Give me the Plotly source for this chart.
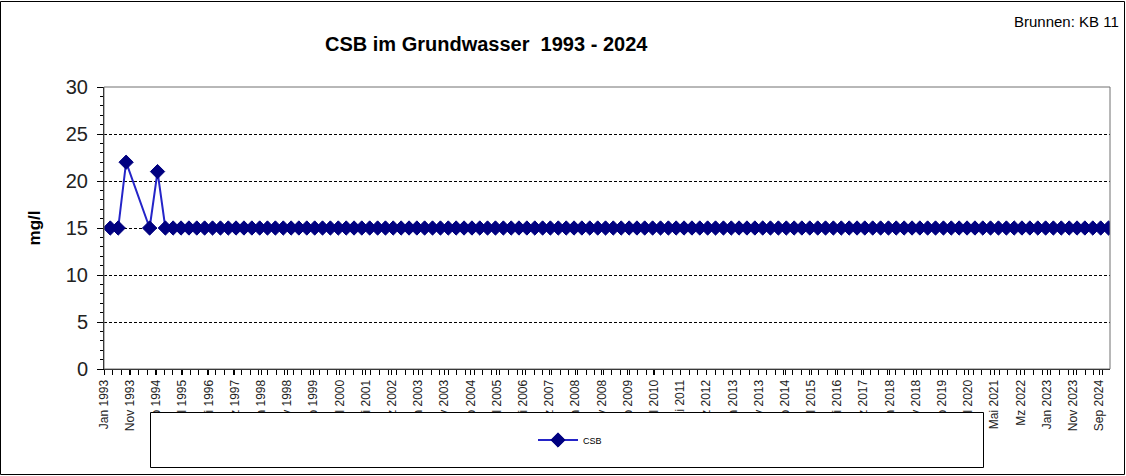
import plotly.graph_objects as go

# Sampling dates and CSB values (mg/l)
sample_dates = [
    "1993-03-15", "1993-06-15", "1993-09-15",
    "1994-06-15", "1994-09-15", "1994-12-15",
    "1995-03-15", "1995-06-15", "1995-09-15", "1995-12-15",
    "1996-03-15", "1996-06-15", "1996-09-15", "1996-12-15",
    "1997-03-15", "1997-06-15", "1997-09-15", "1997-12-15",
    "1998-03-15", "1998-06-15", "1998-09-15", "1998-12-15",
    "1999-03-15", "1999-06-15", "1999-09-15", "1999-12-15",
    "2000-03-15", "2000-06-15", "2000-09-15", "2000-12-15",
    "2001-03-15", "2001-06-15", "2001-09-15", "2001-12-15",
    "2002-03-15", "2002-06-15", "2002-09-15", "2002-12-15",
    "2003-03-15", "2003-06-15", "2003-09-15", "2003-12-15",
    "2004-03-15", "2004-06-15", "2004-09-15", "2004-12-15",
    "2005-03-15", "2005-06-15", "2005-09-15", "2005-12-15",
    "2006-03-15", "2006-06-15", "2006-09-15", "2006-12-15",
    "2007-03-15", "2007-06-15", "2007-09-15", "2007-12-15",
    "2008-03-15", "2008-06-15", "2008-09-15", "2008-12-15",
    "2009-03-15", "2009-06-15", "2009-09-15", "2009-12-15",
    "2010-03-15", "2010-06-15", "2010-09-15", "2010-12-15",
    "2011-03-15", "2011-06-15", "2011-09-15", "2011-12-15",
    "2012-03-15", "2012-06-15", "2012-09-15", "2012-12-15",
    "2013-03-15", "2013-06-15", "2013-09-15", "2013-12-15",
    "2014-03-15", "2014-06-15", "2014-09-15", "2014-12-15",
    "2015-03-15", "2015-06-15", "2015-09-15", "2015-12-15",
    "2016-03-15", "2016-06-15", "2016-09-15", "2016-12-15",
    "2017-03-15", "2017-06-15", "2017-09-15", "2017-12-15",
    "2018-03-15", "2018-06-15", "2018-09-15", "2018-12-15",
    "2019-03-15", "2019-06-15", "2019-09-15", "2019-12-15",
    "2020-03-15", "2020-06-15", "2020-09-15", "2020-12-15",
    "2021-03-15", "2021-06-15", "2021-09-15", "2021-12-15",
    "2022-03-15", "2022-06-15", "2022-09-15", "2022-12-15",
    "2023-03-15", "2023-06-15", "2023-09-15", "2023-12-15",
    "2024-03-15", "2024-06-15", "2024-09-15", "2024-12-15",
]
csb_values = [
    15, 15, 22,
    15, 21, 15,
    15, 15, 15, 15,
    15, 15, 15, 15,
    15, 15, 15, 15,
    15, 15, 15, 15,
    15, 15, 15, 15,
    15, 15, 15, 15,
    15, 15, 15, 15,
    15, 15, 15, 15,
    15, 15, 15, 15,
    15, 15, 15, 15,
    15, 15, 15, 15,
    15, 15, 15, 15,
    15, 15, 15, 15,
    15, 15, 15, 15,
    15, 15, 15, 15,
    15, 15, 15, 15,
    15, 15, 15, 15,
    15, 15, 15, 15,
    15, 15, 15, 15,
    15, 15, 15, 15,
    15, 15, 15, 15,
    15, 15, 15, 15,
    15, 15, 15, 15,
    15, 15, 15, 15,
    15, 15, 15, 15,
    15, 15, 15, 15,
    15, 15, 15, 15,
    15, 15, 15, 15,
    15, 15, 15, 15,
    15, 15, 15, 15,
]

# Date axis labels (every 10 months)
tick_dates = [
    "1993-01-01", "1993-11-01", "1994-09-01", "1995-07-01", "1996-05-01",
    "1997-03-01", "1998-01-01", "1998-11-01", "1999-09-01", "2000-07-01",
    "2001-05-01", "2002-03-01", "2003-01-01", "2003-11-01", "2004-09-01",
    "2005-07-01", "2006-05-01", "2007-03-01", "2008-01-01", "2008-11-01",
    "2009-09-01", "2010-07-01", "2011-05-01", "2012-03-01", "2013-01-01",
    "2013-11-01", "2014-09-01", "2015-07-01", "2016-05-01", "2017-03-01",
    "2018-01-01", "2018-11-01", "2019-09-01", "2020-07-01", "2021-05-01",
    "2022-03-01", "2023-01-01", "2023-11-01", "2024-09-01",
]
tick_labels = [
    "Jan 1993", "Nov 1993", "Sep 1994", "Jul 1995", "Mai 1996",
    "Mz 1997", "Jan 1998", "Nov 1998", "Sep 1999", "Jul 2000",
    "Mai 2001", "Mz 2002", "Jan 2003", "Nov 2003", "Sep 2004",
    "Jul 2005", "Mai 2006", "Mz 2007", "Jan 2008", "Nov 2008",
    "Sep 2009", "Jul 2010", "Mai 2011", "Mz 2012", "Jan 2013",
    "Nov 2013", "Sep 2014", "Jul 2015", "Mai 2016", "Mz 2017",
    "Jan 2018", "Nov 2018", "Sep 2019", "Jul 2020", "Mai 2021",
    "Mz 2022", "Jan 2023", "Nov 2023", "Sep 2024",
]

W, H = 1126, 476
ML, MR, MT, MB = 104, 16, 87, 107
PW, PH = W - ML - MR, H - MT - MB


def px_x(x):
    return (x - ML) / PW


def px_y(y):
    return (H - MB - y) / PH


FONT = "Liberation Sans, Arial, sans-serif"

fig = go.Figure()
fig.add_trace(go.Scatter(
    x=sample_dates, y=csb_values, name="CSB",
    mode="lines+markers",
    line=dict(color="#2424C8", width=2),
    marker=dict(symbol="diamond", size=11, color="#000080",
                line=dict(color="#000080", width=1)),
    cliponaxis=True,
))

shapes = [
    # outer chart frame
    dict(type="rect", xref="paper", yref="paper",
         x0=px_x(0.5), x1=px_x(1124.5), y0=px_y(474.5), y1=px_y(1.5),
         line=dict(color="#000000", width=1), fillcolor="rgba(0,0,0,0)",
         layer="below"),
    # plot area frame
    dict(type="rect", xref="paper", yref="paper", x0=0, x1=1, y0=0, y1=1,
         line=dict(color="#707070", width=1), fillcolor="rgba(0,0,0,0)",
         layer="above"),
    # legend box
    dict(type="rect", xref="paper", yref="paper",
         x0=px_x(150.5), x1=px_x(983.5), y0=px_y(467.5), y1=px_y(412.5),
         line=dict(color="#000000", width=1), fillcolor="#FFFFFF",
         layer="above"),
]

annotations = [
    dict(text="<b>CSB im Grundwasser\u00a0 1993 - 2024</b>",
         xref="paper", yref="paper", x=px_x(486), y=px_y(44),
         xanchor="center", yanchor="middle", showarrow=False,
         font=dict(family=FONT, size=20, color="#000000")),
    dict(text="Brunnen: KB 11",
         xref="paper", yref="paper", x=px_x(1121), y=px_y(22),
         xanchor="right", yanchor="middle", showarrow=False,
         font=dict(family=FONT, size=15, color="#000000")),
]

fig.update_layout(
    width=W, height=H,
    margin=dict(l=ML, r=MR, t=MT, b=MB, pad=0),
    paper_bgcolor="#FFFFFF", plot_bgcolor="#FFFFFF",
    font=dict(family=FONT, color="#000000"),
    showlegend=True,
    legend=dict(orientation="h", x=px_x(533), y=px_y(440),
                xanchor="left", yanchor="middle",
                bgcolor="rgba(0,0,0,0)", font=dict(size=9, family=FONT),
                itemwidth=40),
    shapes=shapes,
    annotations=annotations,
)

fig.update_xaxes(
    type="date",
    range=["1993-01-01", "2025-01-01"],
    tickmode="array", tickvals=tick_dates, ticktext=tick_labels,
    tickangle=-90,
    tickfont=dict(family=FONT, size=12, color="#222222"),
    ticks="outside", ticklen=5, tickcolor="#000000", tickwidth=1,
    minor=dict(ticks="outside", ticklen=5, tickcolor="#000000",
               dtick=100 * 86400000, tick0="1993-01-01", showgrid=False),
    showline=True, linecolor="#000000", linewidth=1,
    showgrid=False, zeroline=False,
)

fig.update_yaxes(
    range=[0, 30], tickmode="linear", tick0=0, dtick=5,
    tickfont=dict(family=FONT, size=20, color="#222222"),
    ticklabelstandoff=5,
    ticks="outside", ticklen=6, tickcolor="#000000",
    minor=dict(ticks="outside", ticklen=3, tickcolor="#000000",
               dtick=1, showgrid=False),
    showline=True, linecolor="#000000", linewidth=1,
    showgrid=True, gridcolor="#000000", gridwidth=1, griddash="3px,2px",
    zeroline=False,
    title=dict(text="<b>mg/l</b>", standoff=20,
               font=dict(family=FONT, size=17, color="#000000")),
)

fig.write_html("out.html")
